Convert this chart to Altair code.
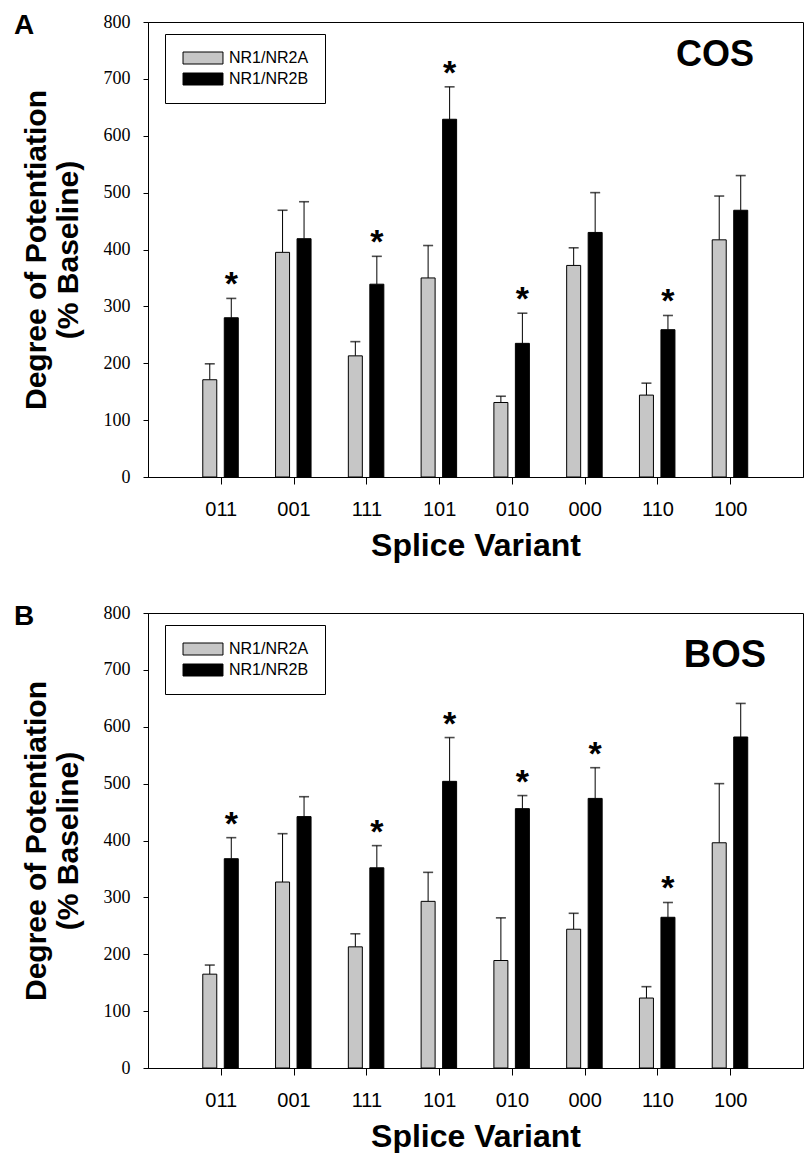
import altair as alt
import pandas as pd

variants = ["011", "001", "111", "101", "010", "000", "110", "100"]
series = ["NR1/NR2A", "NR1/NR2B"]

# Panel A (COS): means and upper ends of error bars
cos_2a = [171, 395, 213, 350, 131, 372, 144, 417]
cos_2a_up = [199, 469, 238, 407, 142, 403, 165, 494]
cos_2b = [280, 419, 339, 629, 235, 430, 259, 469]
cos_2b_up = [314, 484, 388, 686, 288, 500, 284, 530]
cos_sig = [True, False, True, True, True, False, True, False]

# Panel B (BOS)
bos_2a = [165, 327, 213, 293, 189, 244, 123, 396]
bos_2a_up = [181, 412, 236, 344, 264, 272, 143, 500]
bos_2b = [368, 442, 352, 504, 456, 474, 265, 582]
bos_2b_up = [405, 477, 391, 581, 479, 528, 291, 641]
bos_sig = [True, False, True, True, True, True, True, False]

y_ticks = [0, 100, 200, 300, 400, 500, 600, 700, 800]

GRAY = "#c6c6c6"
W, H = 655, 455
OFFSETS = [-11, 10.5]
Y_TITLE = ["Degree of Potentiation", "(% Baseline)"]
X_TITLE = "Splice Variant"


def frame(a, a_up, b, b_up, sig):
    rows = []
    for i, v in enumerate(variants):
        rows.append(dict(variant=v, series=series[0], mean=a[i], upper=a_up[i], sig=False))
        rows.append(dict(variant=v, series=series[1], mean=b[i], upper=b_up[i], sig=sig[i]))
    return pd.DataFrame(rows)


def panel(df, cell, letter, cell_x, cell_y, cell_size):
    base = alt.Chart(df)
    x = alt.X("variant:N", sort=variants, title=X_TITLE,
              scale=alt.Scale(type="point", padding=1))
    yscale = alt.Scale(domain=[0, 800], nice=False)
    yaxis = alt.Axis(values=y_ticks)

    def Y(field):
        return alt.Y(field, scale=yscale, title=Y_TITLE, axis=yaxis)

    color = alt.Color(
        "series:N",
        scale=alt.Scale(domain=series, range=[GRAY, "black"]),
        legend=alt.Legend(
            orient="none", legendX=17, legendY=12, title=None,
            symbolType="M-3.33,-1H3.33V1H-3.33Z", symbolSize=144,
            symbolOffset=14, symbolStrokeColor="black", symbolStrokeWidth=1,
            symbolOpacity=1,
            labelFont="Liberation Sans", labelFontSize=16, labelColor="black",
            labelOffset=18, padding=16, rowPadding=5,
            strokeColor="black", fillColor="white",
        ),
    )
    layers = []
    for s, off in zip(series, OFFSETS):
        sub = base.transform_filter(alt.datum.series == s)
        layers.append(
            sub.mark_rule(xOffset=off, color="black", strokeWidth=1).encode(
                x=x, y=Y("mean:Q"), y2="upper:Q",
            )
        )
        layers.append(
            sub.mark_tick(xOffset=off, color="black", size=10, thickness=1.6).encode(
                x=x, y=Y("upper:Q")
            )
        )
        layers.append(
            sub.mark_bar(size=14, xOffset=off, stroke="black", strokeWidth=1, opacity=1).encode(
                x=x, y=Y("mean:Q"), color=color
            )
        )
        layers.append(
            sub.transform_filter(alt.datum.sig).mark_text(
                text="*", xOffset=off, dy=-3, baseline="alphabetic", align="center",
                font="Liberation Sans", fontWeight="bold", fontSize=34, color="black",
            ).encode(x=x, y=Y("upper:Q"))
        )
    cell_txt = alt.Chart(pd.DataFrame({"t": [cell]})).mark_text(
        align="center", baseline="alphabetic", font="Liberation Sans",
        fontWeight="bold", fontSize=cell_size, color="black",
    ).encode(text="t:N", x=alt.value(cell_x), y=alt.value(cell_y))
    letter_txt = alt.Chart(pd.DataFrame({"t": [letter]})).mark_text(
        align="left", baseline="alphabetic", font="Liberation Sans",
        fontWeight="bold", fontSize=28, color="black",
    ).encode(text="t:N", x=alt.value(-134), y=alt.value(12))
    return alt.layer(*layers, cell_txt, letter_txt).properties(width=W, height=H)


dfA = frame(cos_2a, cos_2a_up, cos_2b, cos_2b_up, cos_sig)
dfB = frame(bos_2a, bos_2a_up, bos_2b, bos_2b_up, bos_sig)

chart = (
    alt.vconcat(
        panel(dfA, "COS", "A", 567, 44, 36),
        panel(dfB, "BOS", "B", 577, 54, 38),
        spacing=40,
    )
    .resolve_scale(color="independent")
    .resolve_legend(color="independent")
    .properties(padding={"left": 5, "top": 3, "right": 0, "bottom": 0})
    .configure_view(stroke="black", strokeWidth=1)
    .configure_axis(grid=False, domainColor="black", tickColor="black",
                    labelColor="black", titleColor="black", domainWidth=1)
    .configure_axisY(
        labelFont="Liberation Serif", labelFontSize=18,
        tickSize=5, labelPadding=13, titleFont="Liberation Sans",
        titleFontSize=30, titleFontWeight="bold", titleLineHeight=32,
        titlePadding=20,
    )
    .configure_axisX(
        labelFont="Liberation Sans", labelFontSize=20, labelAngle=0,
        tickSize=7, labelPadding=15, titleFont="Liberation Sans",
        titleFontSize=32, titleFontWeight="bold", titlePadding=11,
    )
)

chart.save("out.html", embed_options={"renderer": "svg", "actions": False})
